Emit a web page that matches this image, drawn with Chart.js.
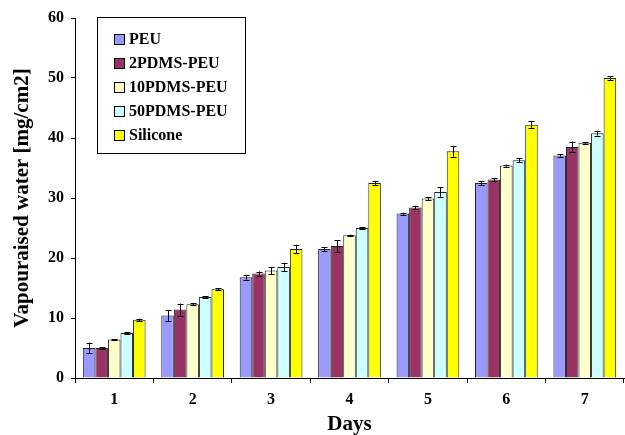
<!DOCTYPE html>
<html lang="en">
<head>
    <meta charset="UTF-8">
    <title>Vapouraised water</title>
    <script src="https://cdn.jsdelivr.net/npm/chart.js"></script>
    <style>
        html, body { margin: 0; padding: 0; background: #fff; overflow: hidden; }
        #wrap { width: 625px; height: 435px; position: relative; }
    </style>
</head>
<body>
    <div id="wrap"><canvas id="waterChart"></canvas></div>

    <script>
        const days = ['1', '2', '3', '4', '5', '6', '7'];
        const seriesNames = ['PEU', '2PDMS-PEU', '10PDMS-PEU', '50PDMS-PEU', 'Silicone'];
        const seriesColors = ['#9999FF', '#993366', '#FFFFCC', '#CCFFFF', '#FFFF00'];

        const peu      = [5.0, 10.4, 16.8, 21.5, 27.4, 32.5, 37.1];
        const pdms2    = [5.0, 11.4, 17.4, 22.0, 28.4, 33.1, 38.5];
        const pdms10   = [6.4, 12.3, 17.9, 23.8, 29.9, 35.4, 39.2];
        const pdms50   = [7.5, 13.5, 18.5, 25.0, 31.0, 36.3, 40.8];
        const silicone = [9.7, 14.8, 21.5, 32.5, 37.8, 42.2, 50.0];

        const peuErr      = [0.9, 0.9, 0.4, 0.3, 0.15, 0.3, 0.2];
        const pdms2Err    = [0.1, 1.0, 0.35, 1.0, 0.3, 0.2, 0.9];
        const pdms10Err   = [0.1, 0.2, 0.6, 0.1, 0.25, 0.15, 0.15];
        const pdms50Err   = [0.1, 0.1, 0.7, 0.1, 0.8, 0.3, 0.4];
        const siliconeErr = [0.2, 0.2, 0.7, 0.3, 0.9, 0.6, 0.3];

        const values = [peu, pdms2, pdms10, pdms50, silicone];
        const errors = [peuErr, pdms2Err, pdms10Err, pdms50Err, siliconeErr];

        const serif = '"Liberation Serif", "Times New Roman", serif';

        // error bars drawn from the y scale
        const errorBars = {
            id: 'errorBars',
            afterDatasetsDraw(chart) {
                const ctx = chart.ctx;
                const y = chart.scales.y;
                ctx.save();
                ctx.strokeStyle = '#000';
                ctx.lineWidth = 1;
                chart.data.datasets.forEach((ds, di) => {
                    const meta = chart.getDatasetMeta(di);
                    meta.data.forEach((bar, i) => {
                        const v = ds.data[i], e = ds.errors[i];
                        const top = y.getPixelForValue(v + e);
                        const bot = y.getPixelForValue(v - e);
                        const x = Math.round(bar.x) + 0.5;
                        ctx.beginPath();
                        ctx.moveTo(x, top); ctx.lineTo(x, bot);
                        ctx.moveTo(x - 3, Math.round(top) + 0.5); ctx.lineTo(x + 3, Math.round(top) + 0.5);
                        ctx.moveTo(x - 3, Math.round(bot) + 0.5); ctx.lineTo(x + 3, Math.round(bot) + 0.5);
                        ctx.stroke();
                    });
                });
                ctx.restore();
            }
        };

        // boxed legend inside the plot
        const boxLegend = {
            id: 'boxLegend',
            afterDraw(chart) {
                const ctx = chart.ctx;
                ctx.save();
                ctx.fillStyle = '#fff';
                ctx.strokeStyle = '#000';
                ctx.lineWidth = 1;
                ctx.fillRect(97.5, 17.5, 148, 136);
                ctx.strokeRect(97.5, 17.5, 148, 136);
                ctx.font = 'bold 16px ' + serif;
                ctx.textBaseline = 'middle';
                chart.data.datasets.forEach((ds, i) => {
                    const yy = 39 + i * 24;
                    ctx.fillStyle = ds.backgroundColor;
                    ctx.fillRect(114.5, Math.round(yy - 5) + 0.5, 10, 10);
                    ctx.strokeStyle = '#000';
                    ctx.strokeRect(114.5, Math.round(yy - 5) + 0.5, 10, 10);
                    ctx.fillStyle = '#000';
                    ctx.fillText(ds.label, 129, yy + 1);
                });
                ctx.restore();
            }
        };

        const ctx = document.getElementById('waterChart').getContext('2d');
        new Chart(ctx, {
            type: 'bar',
            data: {
                labels: days,
                datasets: seriesNames.map((name, i) => ({
                    label: name,
                    data: values[i],
                    errors: errors[i],
                    backgroundColor: seriesColors[i],
                    borderColor: '#222',
                    borderWidth: 1,
                    categoryPercentage: 0.8,
                    barPercentage: 1.0
                }))
            },
            options: {
                responsive: true,
                maintainAspectRatio: false,
                animation: false,
                layout: { padding: { top: 18, right: 1, left: 0, bottom: 0 } },
                plugins: { legend: { display: false }, tooltip: { enabled: false } },
                scales: {
                    x: {
                        grid: { display: true, drawOnChartArea: false, offset: true, tickLength: 5, color: '#000' },
                        border: { display: true, color: '#000', width: 1 },
                        ticks: { color: '#000', font: { family: serif, size: 16, weight: 'bold' }, padding: 7 },
                        title: { display: true, text: 'Days', color: '#000', font: { family: serif, size: 21, weight: 'bold', lineHeight: 1 }, padding: { top: 0, bottom: 0 } },
                        afterFit(s) { s.height = 57; }
                    },
                    y: {
                        min: 0, max: 60,
                        grid: { display: true, drawOnChartArea: false, tickLength: 4, color: '#000' },
                        border: { display: true, color: '#000', width: 1 },
                        ticks: { stepSize: 10, color: '#000', font: { family: serif, size: 16, weight: 'bold' }, padding: 7 },
                        title: { display: true, text: 'Vapouraised water [mg/cm2]', color: '#000', font: { family: serif, size: 21, weight: 'bold', lineHeight: 1 }, padding: { top: 12, bottom: 0 } },
                        afterFit(s) { s.width = 75; }
                    }
                }
            },
            plugins: [errorBars, boxLegend]
        });
    </script>
</body>
</html>
